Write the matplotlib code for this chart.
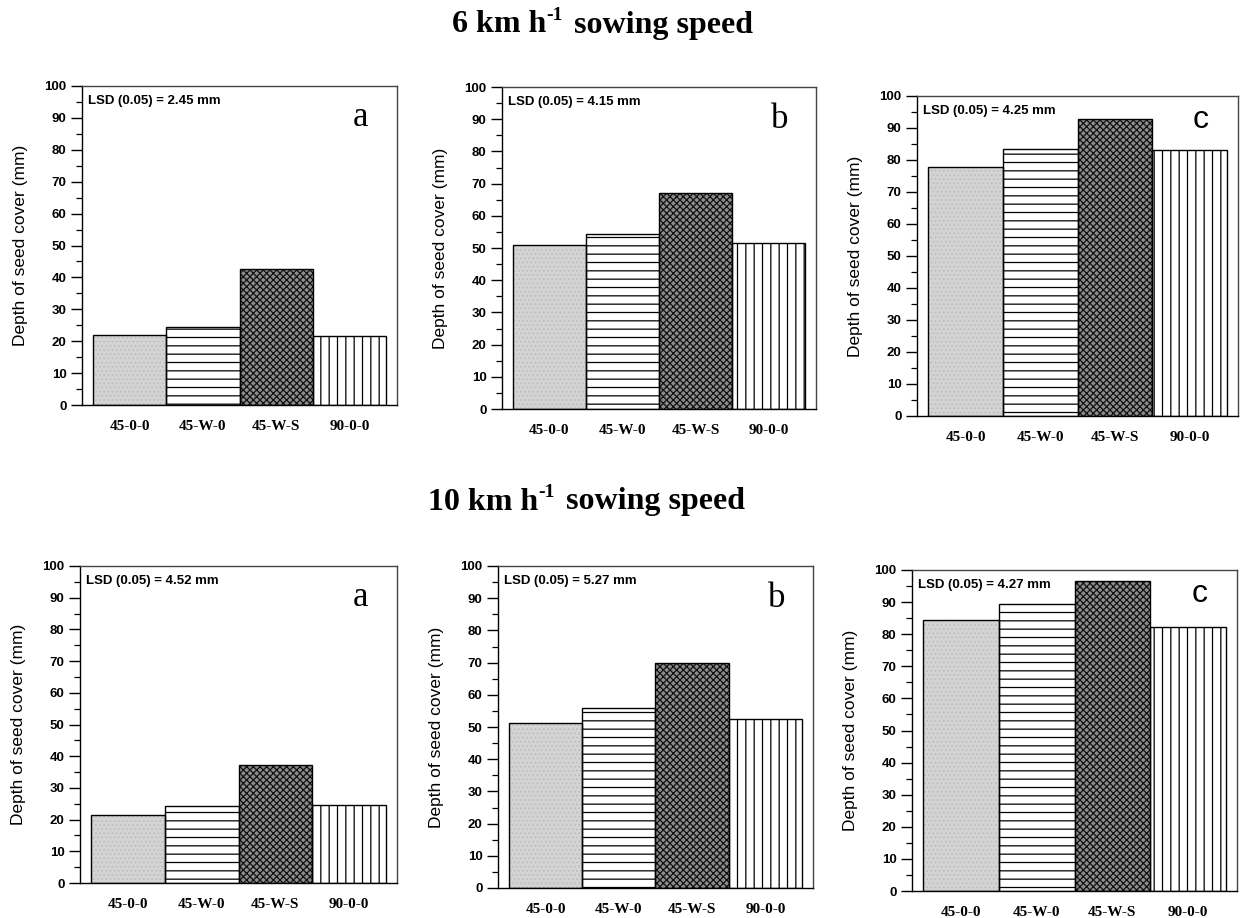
import numpy as np
import matplotlib
matplotlib.use("Agg")
import matplotlib.pyplot as plt
from matplotlib.ticker import MultipleLocator

plt.rcParams['font.family'] = 'Liberation Sans'
plt.rcParams['hatch.linewidth'] = 0.9

treatments = ['45-0-0', '45-W-0', '45-W-S', '90-0-0']

# depth of seed cover (mm)
speed6_a = [21.9, 24.3, 42.6, 21.7]
speed6_b = [51.0, 54.4, 67.2, 51.5]
speed6_c = [77.8, 83.4, 92.8, 83.2]
speed10_a = [21.3, 24.3, 37.3, 24.7]
speed10_b = [51.3, 55.8, 70.0, 52.6]
speed10_c = [84.3, 89.5, 96.6, 82.3]

lsd6 = ['2.45', '4.15', '4.25']
lsd10 = ['4.52', '5.27', '4.27']
panel_letters = ['a', 'b', 'c']

# axes boxes in pixels: left, right, top, bottom (figure is 1245 x 918)
W, H = 1245, 918
boxes = [
    (82, 397, 86, 405), (502, 816, 87, 409), (917, 1238, 96, 416),
    (80, 397, 566, 883), (498, 813, 566, 888), (912, 1237, 570, 891),
]

faces = ['#d4d4d4', 'white', '#8c8c8c', 'white']
hatches = ['....', '--', 'xxxxx', '||']
hatch_cols = ['#c0c0c0', 'black', '#111111', 'black']


def draw_panel(ax, values, lsd, letter):
    x = np.arange(len(values))
    for i in range(len(values)):
        # hatch layer, then outline on top
        ax.bar(x[i], values[i], width=1.0, color=faces[i], hatch=hatches[i],
               edgecolor=hatch_cols[i], linewidth=0, zorder=2)
        ax.bar(x[i], values[i], width=1.0, fill=False, edgecolor='black',
               linewidth=1.0, zorder=3)
    ax.set_xlim(-0.65, 3.65)
    ax.set_ylim(0, 100)
    ax.set_xticks(x)
    ax.set_xticklabels(treatments, family='Liberation Serif',
                       fontweight='bold', fontsize=11)
    ax.tick_params(axis='x', length=0, pad=11)
    ax.yaxis.set_major_locator(MultipleLocator(10))
    ax.yaxis.set_minor_locator(MultipleLocator(5))
    ax.tick_params(axis='y', which='major', direction='out', length=8,
                   width=1, labelsize=9.5, pad=3)
    ax.tick_params(axis='y', which='minor', direction='out', length=4,
                   width=0.9)
    for lab in ax.get_yticklabels():
        lab.set_fontweight('bold')
    for sp in ax.spines.values():
        sp.set_linewidth(1.0)
        sp.set_color('#444444')
    ax.spines['left'].set_color('black')
    ax.spines['bottom'].set_color('black')
    ax.set_ylabel('Depth of seed cover (mm)', fontsize=12.5, labelpad=12)
    ax.text(0.02, 0.952, 'LSD (0.05) = ' + lsd + ' mm', transform=ax.transAxes,
            fontsize=9.5, fontweight='bold', va='center', ha='left')
    if letter == 'c':
        ax.text(0.885, 0.925, letter, transform=ax.transAxes, fontsize=23,
                va='center', ha='center')
    else:
        ax.text(0.885, 0.90, letter, transform=ax.transAxes, fontsize=25,
                family='Liberation Serif', va='center', ha='center')


def speed_title(fig, xc, yc, speed):
    # main text plus a raised "-1", centred as one piece
    r = fig.canvas.get_renderer()
    kw = dict(family='Liberation Serif', fontweight='bold', va='center')
    t1 = fig.text(0, yc, speed + ' km h', fontsize=23, ha='left', **kw)
    t2 = fig.text(0, yc + 10 / H, '-1', fontsize=14, ha='left', **kw)
    t3 = fig.text(0, yc, ' sowing speed', fontsize=23, ha='left', **kw)
    w1 = t1.get_window_extent(r).width / W
    w2 = t2.get_window_extent(r).width / W
    w3 = t3.get_window_extent(r).width / W
    x0 = xc - (w1 + w2 + w3) / 2
    t1.set_x(x0)
    t2.set_x(x0 + w1)
    t3.set_x(x0 + w1 + w2 + 3 / W)


fig = plt.figure(figsize=(W / 100, H / 100), dpi=100)

all_values = [speed6_a, speed6_b, speed6_c, speed10_a, speed10_b, speed10_c]
all_lsd = lsd6 + lsd10
for k, (l, r, t, b) in enumerate(boxes):
    ax = fig.add_axes([l / W, 1 - b / H, (r - l) / W, (b - t) / H])
    draw_panel(ax, all_values[k], all_lsd[k], panel_letters[k % 3])

speed_title(fig, 601 / W, 1 - 25 / H, '6')
speed_title(fig, 585 / W, 1 - 502 / H, '10')

fig.savefig('out.png', dpi=100)
